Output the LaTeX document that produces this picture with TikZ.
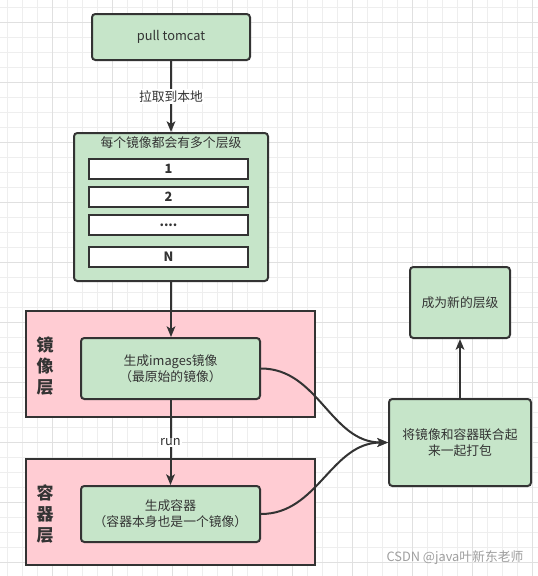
\documentclass[tikz,border=0pt]{standalone}
\usepackage{fontspec}
\setmainfont{Noto Sans CJK SC}
\usepackage{tikz}
\usetikzlibrary{arrows.meta,positioning}
\definecolor{boxgreen}{HTML}{C6E5C9}
\definecolor{boxpink}{HTML}{FFCCD3}
\definecolor{linegray}{HTML}{333333}
\definecolor{gridminor}{HTML}{EEEEEE}
\definecolor{gridmajor}{HTML}{E0E0E0}

\begin{document}
\begin{tikzpicture}[x=0.75pt,y=-0.75pt,text=linegray,
	font=\fontsize{9.6}{12}\selectfont,
	greenbox/.style={draw=linegray,line width=1.5pt,fill=boxgreen,rounded corners=2.5pt,inner sep=0pt,align=center},
	layerbar/.style={draw=linegray,line width=1.5pt,fill=white,inner sep=0pt,minimum width=119.25pt,minimum height=15pt,font=\fontsize{9.6}{12}\selectfont\bfseries},
	pinkbox/.style={draw=linegray,line width=1.5pt,fill=boxpink,inner sep=0pt,minimum width=216.75pt,minimum height=79.5pt},
	sidelabel/.style={align=center,font=\fontsize{12.75}{16}\selectfont\bfseries},
	flow/.style={draw=linegray,line width=1.5pt,-{Stealth[length=8pt,width=6.5pt,inset=2pt]}},
	edgelabel/.style={fill=white,inner sep=1pt}]
	\useasboundingbox (0,0) rectangle (538,576);
	\fill[white] (0,0) rectangle (538,576);
	\foreach \g in {7,22,...,537} \draw[gridminor,line width=0.75pt] (\g,0) -- (\g,576);
	\foreach \g in {7,22,...,576} \draw[gridminor,line width=0.75pt] (0,\g) -- (538,\g);
	\foreach \g in {52,112,...,537} \draw[gridmajor,line width=0.75pt] (\g,0) -- (\g,576);
	\foreach \g in {22,82,...,576} \draw[gridmajor,line width=0.75pt] (0,\g) -- (538,\g);

	\node[pinkbox] (imglayer) at (170.5,364) {};
	\node[pinkbox] (ctnlayer) at (170.5,512) {};
	\node[sidelabel] (imglabel) at (45,366) {镜\\像\\层};
	\node[sidelabel] (ctnlabel) at (45,514) {容\\器\\层};

	\node[greenbox,minimum width=118.5pt,minimum height=34.5pt] (pull) at (171,37) {pull tomcat};
	\node[greenbox,minimum width=145.5pt,minimum height=111pt] (layers) at (171,207) {};
	\node (layerstitle) at (171,143) {每个镜像都会有多个层级};
	\node[layerbar] (bar1) at (168.5,169) {1};
	\node[layerbar] (bar2) at (168.5,197) {2};
	\node[layerbar] (bardots) at (168.5,225) {....};
	\node[layerbar] (barN) at (168.5,257) {N};

	\node[greenbox,minimum width=134.25pt,minimum height=45.75pt] (image) at (170.5,368.5) {生成images镜像\\（最原始的镜像）};
	\node[greenbox,minimum width=134.25pt,minimum height=42pt] (container) at (170.5,514) {生成容器\\（容器本身也是一个镜像）};
	\node[greenbox,minimum width=106.5pt,minimum height=65.25pt] (merge) at (460,442.5) {将镜像和容器联合起\\来一起打包};
	\node[greenbox,minimum width=75pt,minimum height=53.25pt] (newlayer) at (460,302.5) {成为新的层级};

	\draw[flow] (pull) -- node[edgelabel]{拉取到本地} (layers);
	\draw[flow] (layers.south) -- (layers.south |- image.north);
	\draw[flow] (image.south) -- node[edgelabel]{run} (image.south |- container.north);
	\draw[flow] (image.east) to[out=0,in=180] (merge.west);
	\draw[flow] (container.east) to[out=0,in=180] (merge.west);
	\draw[flow] (merge) -- (newlayer);

	\node[text=gray!75] (mark) at (455,558) {CSDN @java叶新东老师};
\end{tikzpicture}
\end{document}
